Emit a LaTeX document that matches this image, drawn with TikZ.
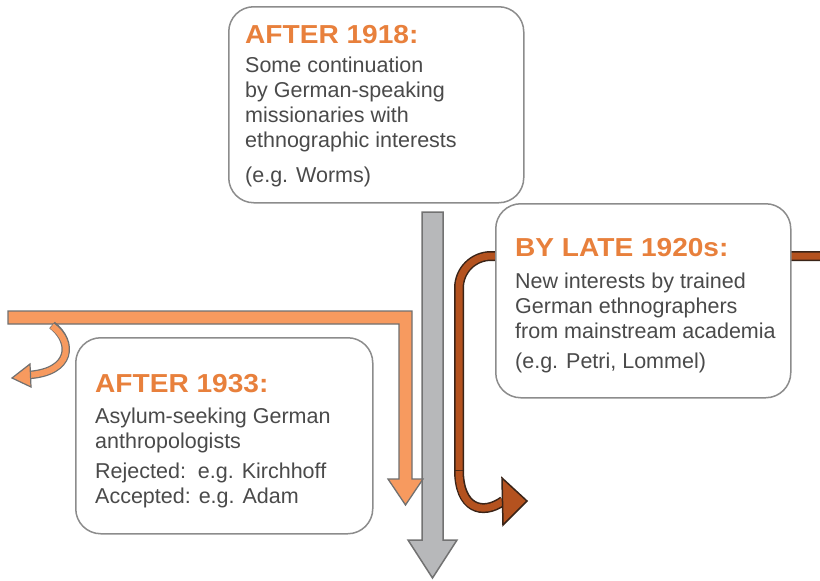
\documentclass[tikz,border=0pt]{standalone}
\usepackage{fontspec}
\setmainfont{Liberation Sans}
\newfontfamily\titlefont[FakeStretch=1.08]{Liberation Sans}
\definecolor{ttl}{HTML}{E8803C}
\definecolor{bodytxt}{HTML}{4A4A4A}
\definecolor{boxline}{HTML}{8C8C8C}
\definecolor{orfill}{HTML}{F79A5F}
\definecolor{orline}{HTML}{707070}
\definecolor{grfill}{HTML}{B7B8BA}
\definecolor{grline}{HTML}{727272}
\definecolor{brfill}{HTML}{B4521F}
\definecolor{brline}{HTML}{3A2418}
\tikzset{
  era/.style={draw=boxline, line width=1.5pt, fill=white, rounded corners=25pt},
  ttlnode/.style={anchor=base west, inner sep=0pt, text=ttl, font=\titlefont\bfseries\fontsize{26}{30}\selectfont},
  txt/.style={anchor=base west, inner sep=0pt, text=bodytxt, font=\fontsize{21.5}{25}\selectfont},
}
\begin{document}
\begin{tikzpicture}[x=1pt,y=-1pt]
\useasboundingbox (0,0) rectangle (820,581);
% gray main arrow
\draw[fill=grfill, draw=grline, line width=1.5pt, line join=miter]
  (422,212) -- (443,212) -- (443,540) -- (457,540) -- (432.5,578) -- (408,540) -- (422,540) -- cycle;
% orange L arrow
\draw[fill=orfill, draw=orline, line width=1.3pt, line join=miter]
  (8,311) -- (412,311) -- (412,479) -- (423,479) -- (405.5,505) -- (388,479) -- (399,479) -- (399,324) -- (8,324) -- cycle;
% small curved orange arrow
\coordinate (sa) at (52,325);
\coordinate (sb) at (29,375);
\draw[draw=orline, line width=8.5pt] (sa) .. controls (74,342) and (72,372) .. (sb);
\draw[draw=orfill, line width=6pt] ([yshift=-1pt]sa) .. controls (74,342) and (72,372) .. (sb);
\draw[fill=orfill, draw=orline, line width=1.2pt, line join=miter]
  (30,364) -- (12,378) -- (31,387) -- cycle;
% brown arrow
\coordinate (ba) at (822,256);
\coordinate (bb) at (459,470);
\coordinate (bc) at (503,501);
\draw[draw=brline, line width=10pt, rounded corners=32pt] (ba) -- (459,256) -- (bb);
\draw[draw=brline, line width=10pt] (bb) .. controls (459,508) and (482,516) .. (bc);
\draw[draw=brfill, line width=7pt, rounded corners=32pt] (ba) -- (459,256) -- (bb);
\draw[draw=brfill, line width=7pt] ([yshift=-1pt]bb) .. controls (459,508) and (482,516) .. (bc);
\draw[fill=brfill, draw=brline, line width=1.5pt, line join=miter]
  (502,478) -- (527,501) -- (503,525) -- cycle;
% boxes
\node[era, minimum width=295pt, minimum height=196pt, anchor=north west] (b1918) at (228,6) {};
\node[era, minimum width=295pt, minimum height=194pt, anchor=north west] (b1920) at (495,203) {};
\node[era, minimum width=297pt, minimum height=196pt, anchor=north west] (b1933) at (75,337) {};
% texts top
\node[ttlnode] (t1) at (245,43) {AFTER 1918:};
\node[txt] (t1a) at (245,72) {Some continuation};
\node[txt] (t1b) at (245,97) {by German-speaking};
\node[txt] (t1c) at (245,122) {missionaries with};
\node[txt] (t1d) at (245,147) {ethnographic interests};
\node[txt] (t1e) at (245,182) {(e.g. Worms)};
% texts right
\node[ttlnode] (t2) at (515,256) {BY LATE 1920s:};
\node[txt] (t2a) at (515,288) {New interests by trained};
\node[txt] (t2b) at (515,313) {German ethnographers};
\node[txt] (t2c) at (515,338) {from mainstream academia};
\node[txt] (t2d) at (515,368) {(e.g. Petri, Lommel)};
% texts bottom left
\node[ttlnode] (t3) at (95,392) {AFTER 1933:};
\node[txt] (t3a) at (95,423) {Asylum-seeking German};
\node[txt] (t3b) at (95,448) {anthropologists};
\node[txt] (t3c) at (95,478) {Rejected:\ \ e.g. Kirchhoff};
\node[txt] (t3d) at (95,503) {Accepted: e.g. Adam};
\end{tikzpicture}
\end{document}
